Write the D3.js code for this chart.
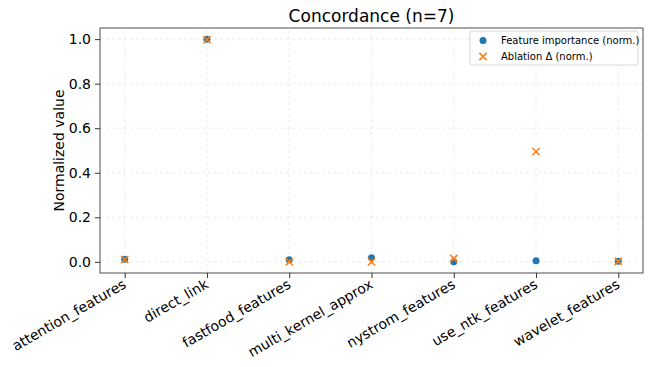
<!DOCTYPE html>
<html>
<head>
<meta charset="utf-8">
<script src="https://cdn.jsdelivr.net/npm/d3@7"></script>
<style>
  html, body { margin: 0; padding: 0; background: #fff; }
  svg { display: block; font-family: "DejaVu Sans", sans-serif; }
</style>
</head>
<body>
<svg id="chart" width="650" height="367"></svg>
<script>
// Feature groups compared in the concordance plot
const categories = ["attention_features", "direct_link", "fastfood_features", "multi_kernel_approx",
                    "nystrom_features", "use_ntk_features", "wavelet_features"];
// Normalized feature importance per group
const importance = [0.012, 1.0, 0.010, 0.018, 0.000, 0.005, 0.003];
// Normalized ablation delta per group
const ablation = [0.010, 0.998, 0.000, 0.000, 0.015, 0.495, 0.002];
const yTicks = [0.0, 0.2, 0.4, 0.6, 0.8, 1.0];

const svg = d3.select("#chart");
const margin = { left: 100, right: 7, top: 28, bottom: 94 };
const W = 650, H = 367;
const x0 = margin.left, x1 = W - margin.right;
const y0 = H - margin.bottom, y1 = margin.top;

const n = categories.length;
const x = d3.scaleLinear().domain([-0.3, n - 1 + 0.3]).range([x0, x1]);
const y = d3.scaleLinear().domain([-0.05, 1.05]).range([y0, y1]);

const blue = "#1f77b4", orange = "#ff7f0e";

// grid
const grid = svg.append("g");
grid.selectAll("line.gx").data(d3.range(n)).join("line")
  .attr("x1", d => x(d)).attr("x2", d => x(d))
  .attr("y1", y0).attr("y2", y1)
  .attr("stroke", "#b0b0b0").attr("stroke-opacity", 0.3)
  .attr("stroke-width", 0.8).attr("stroke-dasharray", "3,3");
grid.selectAll("line.gy").data(yTicks).join("line")
  .attr("x1", x0).attr("x2", x1)
  .attr("y1", d => y(d)).attr("y2", d => y(d))
  .attr("stroke", "#b0b0b0").attr("stroke-opacity", 0.3)
  .attr("stroke-width", 0.8).attr("stroke-dasharray", "3,3");

// axes
const yAxis = d3.axisLeft(y).tickValues(yTicks).tickFormat(d3.format(".1f")).tickSize(5).tickPadding(4);
const gy = svg.append("g").attr("transform", `translate(${x0},0)`).call(yAxis);
gy.select(".domain").remove();
gy.selectAll("text").attr("font-size", 14).attr("fill", "#000").attr("font-family", "DejaVu Sans");
gy.selectAll("line").attr("stroke", "#000").attr("stroke-width", 0.8);

const xAxis = d3.axisBottom(x).tickValues(d3.range(n)).tickFormat(i => categories[i]).tickSize(5).tickPadding(4);
const gx = svg.append("g").attr("transform", `translate(0,${y0})`).call(xAxis);
gx.select(".domain").remove();
gx.selectAll("line").attr("stroke", "#000").attr("stroke-width", 0.8);
gx.selectAll("text")
  .attr("font-size", 14).attr("fill", "#000").attr("font-family", "DejaVu Sans")
  .attr("text-anchor", "end")
  .attr("dy", null).attr("y", 0)
  .attr("transform", "translate(2,14) rotate(-30)");

// spines
svg.append("rect").attr("x", x0).attr("y", y1).attr("width", x1 - x0).attr("height", y0 - y1)
  .attr("fill", "none").attr("stroke", "#222").attr("stroke-width", 0.8);

// series: feature importance (circles)
svg.append("g").selectAll("circle").data(importance).join("circle")
  .attr("cx", (d, i) => x(i)).attr("cy", d => y(d)).attr("r", 3.5)
  .attr("fill", blue);

// series: ablation delta (crosses)
const cross = d3.symbol().type(d3.symbolX).size(36);
svg.append("g").selectAll("path").data(ablation).join("path")
  .attr("d", cross)
  .attr("transform", (d, i) => `translate(${x(i)},${y(d)})`)
  .attr("fill", "none").attr("stroke", orange).attr("stroke-width", 1.6);

// title and y label
svg.append("text").attr("x", (x0 + x1) / 2).attr("y", 22).attr("text-anchor", "middle")
  .attr("font-size", 17).attr("fill", "#000").text("Concordance (n=7)");
svg.append("text").attr("transform", `translate(64,${(y0 + y1) / 2}) rotate(-90)`)
  .attr("text-anchor", "middle").attr("font-size", 14).attr("fill", "#000").text("Normalized value");

// legend
const lg = svg.append("g");
lg.append("rect").attr("x", 470).attr("y", 31).attr("width", 168).attr("height", 34).attr("rx", 2)
  .attr("fill", "#fff").attr("fill-opacity", 0.8).attr("stroke", "#ccc").attr("stroke-width", 0.8);
lg.append("circle").attr("cx", 483).attr("cy", 40.5).attr("r", 3.5).attr("fill", blue);
lg.append("path").attr("d", cross).attr("transform", "translate(483,56.5)")
  .attr("fill", "none").attr("stroke", orange).attr("stroke-width", 1.6);
lg.append("text").attr("x", 501).attr("y", 44).attr("font-size", 10).attr("fill", "#000").text("Feature importance (norm.)");
lg.append("text").attr("x", 501).attr("y", 60).attr("font-size", 10).attr("fill", "#000").text("Ablation Δ (norm.)");
</script>
</body>
</html>
